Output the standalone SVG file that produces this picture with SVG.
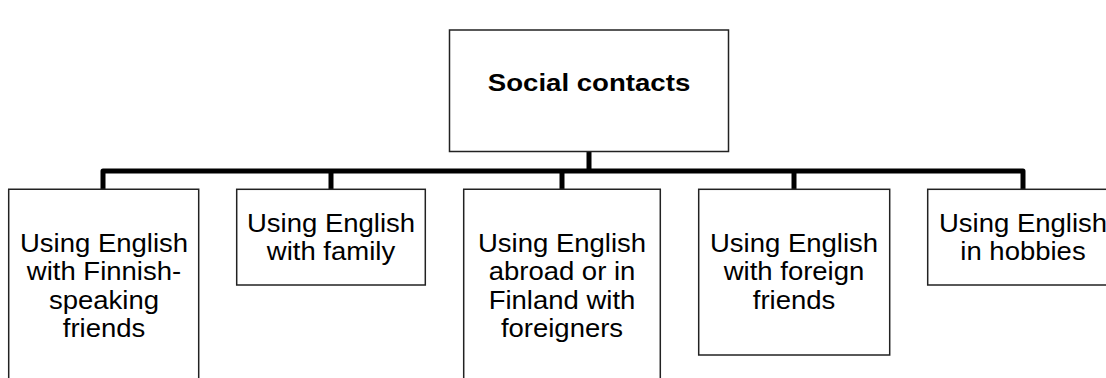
<svg xmlns="http://www.w3.org/2000/svg" width="1106" height="378" viewBox="0 0 1106 378">
<style>
.box{fill:#fff;stroke:#222;stroke-width:1.5}
.t{font-family:"Liberation Sans",Arial,sans-serif;font-size:25px;fill:#000;text-anchor:middle}
.b{font-weight:bold;font-size:24px}
.c{fill:none;stroke:#000;stroke-width:5;stroke-linejoin:round;stroke-linecap:butt}
</style>
<rect width="1106" height="378" fill="#fff"/>
<g id="connectors">
<path class="c" d="M103,189 V171 H1023 V189"/>
<path class="c" d="M589,151.5 V171"/>
<path class="c" d="M331,171 V189"/>
<path class="c" d="M562,171 V189"/>
<path class="c" d="M794,171 V189"/>
</g>
<g id="root">
<rect class="box" x="449.5" y="30" width="279" height="121.5"/>
<text class="t b" transform="translate(589,91) scale(1.15,1)" x="0" y="0">Social contacts</text>
</g>
<g id="n1">
<path class="box" d="M8.7,380 V189.3 H198.7 V380"/>
<text class="t" transform="translate(104,0) scale(1.1,1)"><tspan x="0" y="252.3">Using English</tspan><tspan x="0" y="280.5">with Finnish-</tspan><tspan x="0" y="308.7">speaking</tspan><tspan x="0" y="337">friends</tspan></text>
</g>
<g id="n2">
<rect class="box" x="236.7" y="189.3" width="188.6" height="95.7"/>
<text class="t" transform="translate(331,0) scale(1.1,1)"><tspan x="0" y="232">Using English</tspan><tspan x="0" y="260.2">with family</tspan></text>
</g>
<g id="n3">
<path class="box" d="M463.7,380 V189.3 H660.3 V380"/>
<text class="t" transform="translate(562,0) scale(1.1,1)"><tspan x="0" y="252.3">Using English</tspan><tspan x="0" y="280.5">abroad or in</tspan><tspan x="0" y="309">Finland with</tspan><tspan x="0" y="337.5">foreigners</tspan></text>
</g>
<g id="n4">
<rect class="box" x="698.7" y="189.3" width="191" height="165.7"/>
<text class="t" transform="translate(794,0) scale(1.1,1)"><tspan x="0" y="252.3">Using English</tspan><tspan x="0" y="280.5">with foreign</tspan><tspan x="0" y="308.7">friends</tspan></text>
</g>
<g id="n5">
<rect class="box" x="927.7" y="189.3" width="200" height="95.7"/>
<text class="t" transform="translate(1023,0) scale(1.1,1)"><tspan x="0" y="232">Using English</tspan><tspan x="0" y="260.2">in hobbies</tspan></text>
</g>
</svg>
